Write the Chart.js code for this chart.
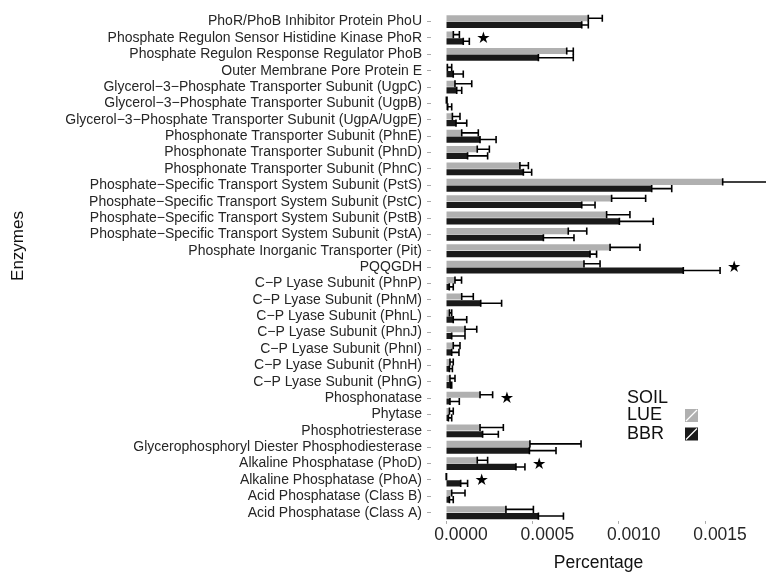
<!DOCTYPE html>
<html>
<head>
<meta charset="utf-8">
<script src="https://cdn.jsdelivr.net/npm/chart.js@4.4.1/dist/chart.umd.min.js"></script>
<style>
  html, body { margin: 0; padding: 0; background: #fff; }
  #contenedor { width: 766px; height: 576px; position: relative; }
</style>
</head>
<body>
<div id="contenedor"><canvas id="grafico"></canvas></div>
<script>
const enzimas = [
  'PhoR/PhoB Inhibitor Protein PhoU',
  'Phosphate Regulon Sensor Histidine Kinase PhoR',
  'Phosphate Regulon Response Regulator PhoB',
  'Outer Membrane Pore Protein E',
  'Glycerol\u22123\u2212Phosphate Transporter Subunit (UgpC)',
  'Glycerol\u22123\u2212Phosphate Transporter Subunit (UgpB)',
  'Glycerol\u22123\u2212Phosphate Transporter Subunit (UgpA/UgpE)',
  'Phosphonate Transporter Subunit (PhnE)',
  'Phosphonate Transporter Subunit (PhnD)',
  'Phosphonate Transporter Subunit (PhnC)',
  'Phosphate\u2212Specific Transport System Subunit (PstS)',
  'Phosphate\u2212Specific Transport System Subunit (PstC)',
  'Phosphate\u2212Specific Transport System Subunit (PstB)',
  'Phosphate\u2212Specific Transport System Subunit (PstA)',
  'Phosphate Inorganic Transporter (Pit)',
  'PQQGDH',
  'C\u2212P Lyase Subunit (PhnP)',
  'C\u2212P Lyase Subunit (PhnM)',
  'C\u2212P Lyase Subunit (PhnL)',
  'C\u2212P Lyase Subunit (PhnJ)',
  'C\u2212P Lyase Subunit (PhnI)',
  'C\u2212P Lyase Subunit (PhnH)',
  'C\u2212P Lyase Subunit (PhnG)',
  'Phosphonatase',
  'Phytase',
  'Phosphotriesterase',
  'Glycerophosphoryl Diester Phosphodiesterase',
  'Alkaline Phosphatase (PhoD)',
  'Alkaline Phosphatase (PhoA)',
  'Acid Phosphatase (Class B)',
  'Acid Phosphatase (Class A)'
];

const lueMedia = [
  0.000824, 0.0000425, 0.000699, 0.000008, 0.000052, 0.000002, 0.000037, 0.000091,
  0.000181, 0.000428, 0.001602, 0.000959, 0.000930, 0.000708, 0.000950, 0.000799,
  0.000052, 0.000091, 0.000020, 0.000110, 0.000042, 0.000023, 0.000023, 0.000197,
  0.000020, 0.000197, 0.000486, 0.000181, 0.000001, 0.000033, 0.000347
];
const lueDesv = [
  0.000081, 0.000035, 0.000038, 0.000025, 0.000097, 0.000004, 0.000044, 0.000096,
  0.000070, 0.000049, 0.000320, 0.000197, 0.000135, 0.000107, 0.000173, 0.000093,
  0.000038, 0.000067, 0.000013, 0.000068, 0.000039, 0.000019, 0.000029, 0.000073,
  0.000022, 0.000135, 0.000296, 0.000060, 0.000002, 0.000077, 0.000159
];
const bbrMedia = [
  0.000786, 0.000100, 0.000535, 0.000042, 0.000062, 0.000010, 0.000058, 0.000197,
  0.000125, 0.000448, 0.001191, 0.000786, 0.001004, 0.000564, 0.000834, 0.001374,
  0.000019, 0.000201, 0.000042, 0.000033, 0.000033, 0.000020, 0.000027, 0.000023,
  0.000014, 0.000212, 0.000483, 0.000405, 0.000085, 0.000020, 0.000535
];
const bbrDesv = [
  0.000038, 0.000035, 0.000202, 0.000058, 0.000029, 0.000023, 0.000062, 0.000093,
  0.000116, 0.000048, 0.000116, 0.000077, 0.000196, 0.000177, 0.000038, 0.000213,
  0.000023, 0.000121, 0.000078, 0.000077, 0.000042, 0.000017, 0.000006, 0.000054,
  0.000019, 0.000091, 0.000154, 0.000052, 0.000040, 0.000022, 0.000145
];

const significativos = [
  'Phosphate Regulon Sensor Histidine Kinase PhoR',
  'PQQGDH',
  'Phosphonatase',
  'Alkaline Phosphatase (PhoD)',
  'Alkaline Phosphatase (PhoA)'
];

const ticksX     = [0, 0.0005, 0.0010, 0.0015];
const tituloLeyenda = 'SOIL';
const COLOR_LUE  = '#b0b0b0';
const COLOR_BBR  = '#1a1a1a';
const TEXTO      = '#262626';

// barras de error: desde la media hasta media + desv, con topes en ambos extremos
const barrasError = {
  id: 'barrasError',
  afterDatasetsDraw(chart) {
    const ctx = chart.ctx;
    const x   = chart.scales.x;
    ctx.save();
    ctx.strokeStyle = '#000';
    ctx.lineWidth   = 1.6;
    chart.data.datasets.forEach((ds, d) => {
      const meta = chart.getDatasetMeta(d);
      meta.data.forEach((bar, i) => {
        const x0 = x.getPixelForValue(ds.data[i]);
        const x1 = x.getPixelForValue(ds.data[i] + ds.desv[i]);
        const h  = bar.height / 2 + 0.5;
        ctx.beginPath();
        ctx.moveTo(x0, bar.y); ctx.lineTo(x1, bar.y);
        ctx.moveTo(x0, bar.y - h); ctx.lineTo(x0, bar.y + h);
        ctx.moveTo(x1, bar.y - h); ctx.lineTo(x1, bar.y + h);
        ctx.stroke();
      });
    });
    ctx.restore();
  }
};

// estrellas de significancia + leyenda + titulo del eje y
const extras = {
  id: 'extras',
  afterDraw(chart) {
    const ctx = chart.ctx;
    const x   = chart.scales.x;
    const y   = chart.scales.y;
    ctx.save();

    ctx.fillStyle    = '#000';
    ctx.font         = '16px "DejaVu Sans"';
    ctx.textAlign    = 'left';
    ctx.textBaseline = 'middle';
    enzimas.forEach((nombre, i) => {
      if (!significativos.includes(nombre)) return;
      const fin = Math.max(lueMedia[i] + lueDesv[i], bbrMedia[i] + bbrDesv[i]);
      ctx.fillText('\u2605', x.getPixelForValue(fin) + 7, y.getPixelForValue(i) + 1);
    });

    // titulo eje y
    ctx.fillStyle = '#111';
    ctx.font      = '17px "Liberation Sans", Arial, sans-serif';
    ctx.translate(18, 246);
    ctx.rotate(-Math.PI / 2);
    ctx.textAlign = 'center';
    ctx.fillText('Enzymes', 0, 0);
    ctx.setTransform(1, 0, 0, 1, 0, 0);

    // leyenda
    ctx.font      = '18px "Liberation Sans", Arial, sans-serif';
    ctx.textAlign = 'left';
    ctx.fillStyle = '#111';
    ctx.fillText(tituloLeyenda, 627, 398);
    chart.data.datasets.forEach((ds, d) => {
      const cy = 415.5 + d * 18.5;
      ctx.fillStyle = '#111';
      ctx.fillText(ds.label, 627, cy);
      ctx.fillStyle = ds.backgroundColor;
      ctx.fillRect(685, cy - 6.5, 13, 13);
      ctx.strokeStyle = '#fff';
      ctx.lineWidth = 1.3;
      ctx.beginPath();
      ctx.moveTo(686, cy + 5.5); ctx.lineTo(697, cy - 5.5);
      ctx.stroke();
    });
    ctx.restore();
  }
};

new Chart(document.getElementById('grafico'), {
  type: 'bar',
  data: {
    labels: enzimas,
    datasets: [
      { label: 'LUE', data: lueMedia, desv: lueDesv, backgroundColor: COLOR_LUE,
        categoryPercentage: 0.82, barPercentage: 0.92 },
      { label: 'BBR', data: bbrMedia, desv: bbrDesv, backgroundColor: COLOR_BBR,
        categoryPercentage: 0.82, barPercentage: 0.92 }
    ]
  },
  options: {
    indexAxis: 'y',
    responsive: true, maintainAspectRatio: false, animation: false,
    layout: { padding: { top: 11, right: 0, bottom: 0, left: 0 } },
    scales: {
      x: {
        min: -0.0000869, max: 0.0018529,
        afterBuildTicks: s => { s.ticks = ticksX.map(v => ({ value: v })); },
        afterFit: s => { s.height = 55.1; },
        grid: { drawOnChartArea: false, drawTicks: true, tickLength: 3, color: '#aaa' },
        border: { display: false },
        ticks: {
          callback: v => v.toFixed(4), color: TEXTO, padding: 1, labelOffset: 15,
          font: { family: '"Liberation Sans", Arial, sans-serif', size: 17.5 }
        },
        title: {
          display: true, text: 'Percentage', color: '#111',
          font: { family: '"Liberation Sans", Arial, sans-serif', size: 17.5 },
          padding: { top: 0, bottom: 2 }
        }
      },
      y: {
        afterFit: s => { s.width = 431; },
        grid: { drawOnChartArea: false, drawTicks: true, tickLength: 4, color: '#aaa', offset: false },
        border: { display: false },
        ticks: {
          autoSkip: false, color: TEXTO, padding: 5,
          font: { family: '"Liberation Sans", Arial, sans-serif', size: 14 }
        }
      }
    },
    plugins: { legend: { display: false }, tooltip: { enabled: false } }
  },
  plugins: [barrasError, extras]
});
</script>
</body>
</html>
